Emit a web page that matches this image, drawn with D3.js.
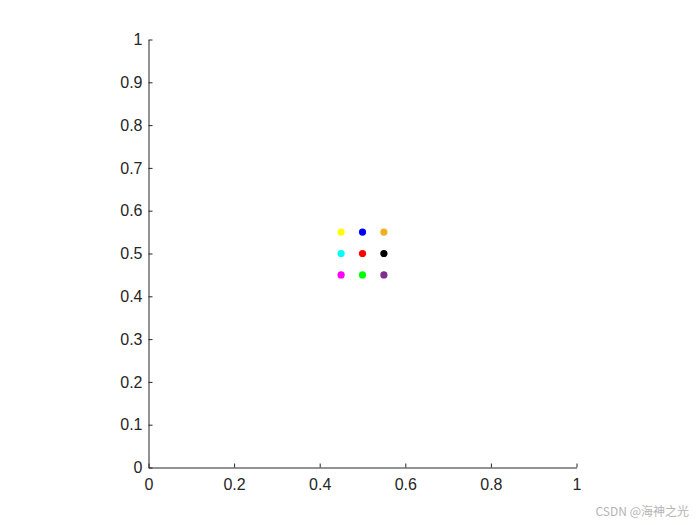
<!DOCTYPE html>
<meta charset="utf-8">
<style>
body { margin: 0; background: #fff; }
text { font-family: "Liberation Sans", Arial, sans-serif; }
.axis path, .axis line { stroke: #262626; }
.axis text { fill: #262626; font-size: 16px; }
</style>
<svg width="700" height="525"></svg>
<script src="https://d3js.org/d3.v7.min.js"></script>
<script>

var xs = [0.45, 0.5, 0.55, 0.45, 0.5, 0.55, 0.45, 0.5, 0.55];
var ys = [0.55, 0.55, 0.55, 0.5, 0.5, 0.5, 0.45, 0.45, 0.45];
var colors = ["#ffff00", "#0000ff", "#edb120", "#00ffff", "#ff0000", "#000000", "#ff00ff", "#00ff00", "#7e2f8e"];
var ticks = [0, 0.1, 0.2, 0.3, 0.4, 0.5, 0.6, 0.7, 0.8, 0.9, 1];
var xticks = [0, 0.2, 0.4, 0.6, 0.8, 1];

var svg = d3.select("svg");

var x = d3.scaleLinear().domain([0, 1]).range([148.5, 576.5]);
var y = d3.scaleLinear().domain([0, 1]).range([467.5, 39.5]);

var fmt = function(d) { return d3.format("")(d); };

svg.append("g")
    .attr("class", "axis")
    .attr("transform", "translate(0,467.5)")
    .call(d3.axisBottom(x).tickValues(xticks).tickFormat(fmt).tickSizeInner(-4).tickSizeOuter(0).tickPadding(11));

svg.append("g")
    .attr("class", "axis")
    .attr("transform", "translate(148.5,0)")
    .call(d3.axisLeft(y).tickValues(ticks).tickFormat(fmt).tickSizeInner(-4).tickSizeOuter(0).tickPadding(6));

svg.selectAll(".pt")
    .data(xs)
    .enter().append("circle")
    .attr("class", "pt")
    .attr("cx", function(d) { return x(d); })
    .attr("cy", function(d, i) { return y(ys[i]); })
    .attr("r", 3.6)
    .attr("fill", function(d, i) { return colors[i]; });

svg.append("text")
    .attr("x", 689)
    .attr("y", 516)
    .attr("text-anchor", "end")
    .style("font-family", "'Noto Sans CJK SC', sans-serif")
    .style("font-size", "12px")
    .style("fill", "#b4b4b4")
    .text("CSDN @海神之光");

</script>
